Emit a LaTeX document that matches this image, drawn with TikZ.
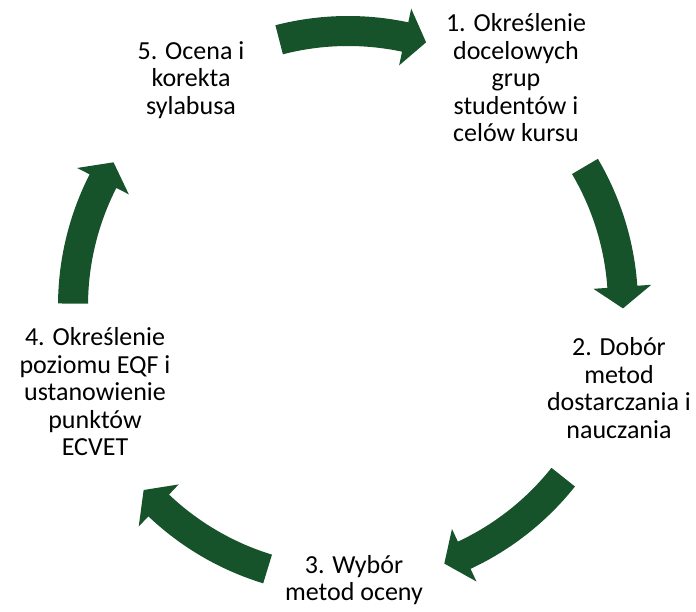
\documentclass[tikz,border=0pt]{standalone}
\usepackage{fontspec}
\setmainfont{Carlito}
\definecolor{cyclegreen}{RGB}{23,83,42}

\begin{document}
\begin{tikzpicture}[x=1pt, y=1pt, stage/.style={align=center, inner sep=0pt, font=\fontsize{26}{27.5}\selectfont}, cyclearrow/.style={fill=cyclegreen}]

    \useasboundingbox (-348,-306) rectangle (348,306);

    \node[stage] (target)  at (168,228)  {1. Określenie\\docelowych\\grup\\studentów i\\celów kursu};
    \node[stage] (methods) at (271,-82)  {2. Dobór\\metod\\dostarczania i\\nauczania};
    \node[stage] (assess)  at (6,-274)   {3. Wybór\\metod oceny};
    \node[stage] (level)   at (-253,-86) {4. Określenie\\poziomu EQF i\\ustanowienie\\punktów\\ECVET};
    \node[stage] (review)  at (-157,226) {5. Ocena i\\korekta\\sylabusa};

    % curved arrows between the stages
    \foreach \c in {89,15,-54,-122.5,164} {
        \fill[cyclearrow] ({\c+15.5}:290) arc[start angle=\c+15.5, end angle=\c-11, radius=290]
            -- ({\c-11}:304) -- ({\c-15.5}:275) -- ({\c-11}:246) -- ({\c-11}:260)
            arc[start angle=\c-11, end angle=\c+15.5, radius=260] -- cycle;
    }

\end{tikzpicture}
\end{document}
